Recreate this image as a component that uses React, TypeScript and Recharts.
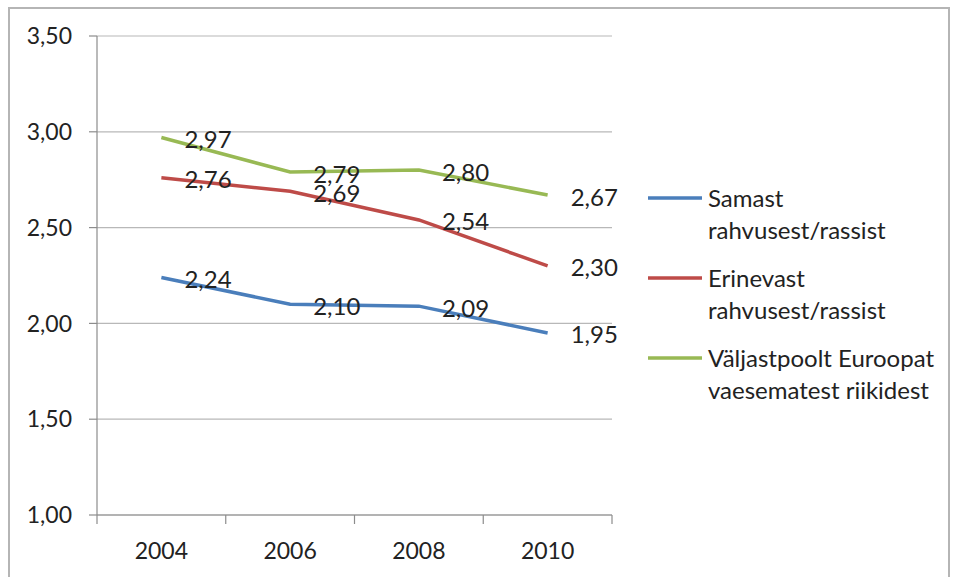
import React from 'react';
import {
  LineChart,
  Line,
  XAxis,
  YAxis,
  CartesianGrid,
  Legend,
  LabelList,
} from 'recharts';

// aastad ja näitajad (loetud pildilt)
const years = [2004, 2006, 2008, 2010];
const samast = [2.24, 2.1, 2.09, 1.95];
const erinevast = [2.76, 2.69, 2.54, 2.3];
const valjastpoolt = [2.97, 2.79, 2.8, 2.67];
const yTicks = [1, 1.5, 2, 2.5, 3, 3.5];
const xTicks = [2003, 2004, 2005, 2006, 2007, 2008, 2009, 2010, 2011];

const series = [
  { key: 'samast', lines: ['Samast', 'rahvusest/rassist'], color: '#4a7ebb' },
  { key: 'erinevast', lines: ['Erinevast', 'rahvusest/rassist'], color: '#be4b48' },
  { key: 'valjastpoolt', lines: ['Väljastpoolt Euroopat', 'vaesematest riikidest'], color: '#98b954' },
];

const data = years.map((year, i) => ({
  year,
  samast: samast[i],
  erinevast: erinevast[i],
  valjastpoolt: valjastpoolt[i],
}));

const FONT = 'Lato, "Open Sans", sans-serif';
const fmt = (n: number) => n.toFixed(2).replace('.', ',');

const renderLabel = (props: any) => {
  const { x, y, value } = props;
  return (
    <text x={x + 23} y={y + 1} dominantBaseline="central" fontSize={24} fill="#222" fontFamily={FONT}>
      {fmt(Number(value))}
    </text>
  );
};

const XTick = (props: any) => {
  const { x, y, payload } = props;
  const v = payload.value as number;
  if (v % 2 === 1) {
    return <line x1={x} x2={x} y1={y} y2={y + 9} stroke="#8c8c8c" strokeWidth={1.2} />;
  }
  return (
    <text x={x} y={y + 35} textAnchor="middle" dominantBaseline="central" fontSize={23} fill="#222" fontFamily={FONT}>
      {v}
    </text>
  );
};

const LegendBox = () => (
  <div style={{ fontFamily: FONT, fontSize: 24, color: '#222' }}>
    {series.map((s) => (
      <div key={s.key} style={{ display: 'flex', alignItems: 'flex-start', marginBottom: 16 }}>
        <svg width={60} height={32} style={{ flex: 'none' }}>
          <line x1={0} x2={54} y1={16} y2={16} stroke={s.color} strokeWidth={3.5} />
        </svg>
        <div style={{ lineHeight: '32px', whiteSpace: 'nowrap' }}>
          {s.lines.map((t) => (
            <div key={t}>{t}</div>
          ))}
        </div>
      </div>
    ))}
  </div>
);

export default function App() {
  return (
    <div style={{ position: 'absolute', left: 0, top: 0, width: 959, height: 577, background: '#fff', overflow: 'hidden' }}>
      <div
        style={{
          position: 'absolute',
          left: 8,
          top: 7,
          width: 942,
          height: 590,
          border: '2px solid #b5b5b5',
          boxSizing: 'border-box',
        }}
      />
      <div style={{ position: 'absolute', left: 0, top: 0 }}>
        <LineChart width={959} height={577} data={data} margin={{ top: 36, right: 347, left: 0, bottom: 22 }}>
          <CartesianGrid vertical={false} stroke="#b8b8b8" strokeWidth={1.2} />
          <XAxis
            dataKey="year"
            type="number"
            domain={[2003, 2011]}
            ticks={xTicks}
            interval={0}
            height={40}
            tickSize={0}
            tickMargin={0}
            tickLine={false}
            axisLine={{ stroke: '#8c8c8c', strokeWidth: 1.2 }}
            tick={<XTick />}
          />
          <YAxis
            domain={[1, 3.5]}
            ticks={yTicks}
            width={97}
            tickSize={8}
            tickMargin={17}
            tickFormatter={fmt}
            axisLine={{ stroke: '#8c8c8c', strokeWidth: 1.2 }}
            tickLine={{ stroke: '#8c8c8c', strokeWidth: 1.2 }}
            tick={{ fontSize: 23, fill: '#222', fontFamily: FONT }}
          />
          {series.map((s) => (
            <Line
              key={s.key}
              dataKey={s.key}
              stroke={s.color}
              strokeWidth={3.5}
              dot={false}
              type="linear"
              isAnimationActive={false}
            >
              <LabelList dataKey={s.key} content={renderLabel} />
            </Line>
          ))}
          <Legend
            layout="horizontal"
            verticalAlign="middle"
            align="center"
            wrapperStyle={{ left: 648, top: 182, width: 310, right: 'auto', bottom: 'auto' }}
            content={<LegendBox />}
          />
        </LineChart>
      </div>
    </div>
  );
}
